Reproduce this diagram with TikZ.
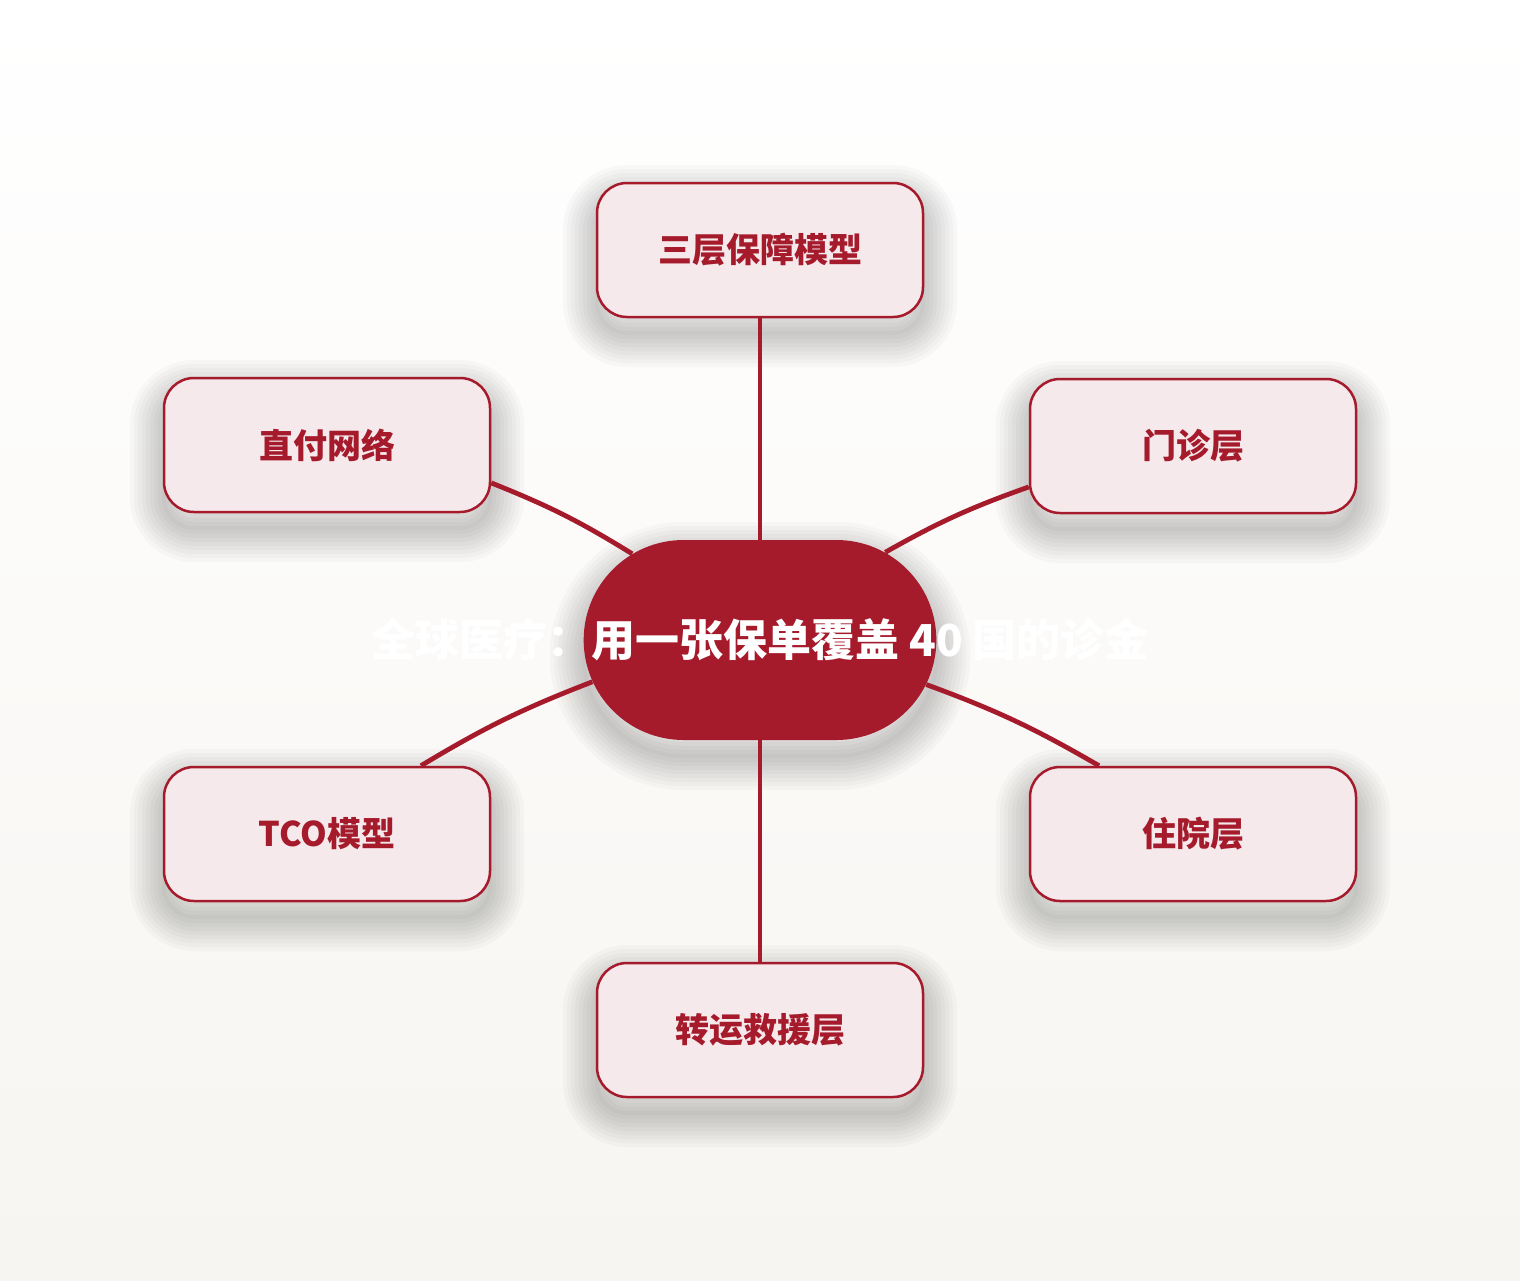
\documentclass[tikz,border=0pt]{standalone}
\usepackage{fontspec}
\setmainfont{Noto Sans CJK SC}
\usetikzlibrary{shapes.misc}

\definecolor{wine}{RGB}{165,27,44}
\definecolor{blush}{RGB}{245,233,236}
\definecolor{paper}{RGB}{247,245,241}

\tikzset{
  haze/.style={preaction={draw=black,draw opacity=0.022,line width=#1,transform canvas={yshift=-8pt}}},
  soft/.style={haze=34pt,haze=30pt,haze=26pt,haze=22pt,haze=18pt,haze=14pt,haze=10pt,haze=6pt,haze=2pt},
  leaf/.style={draw=wine,line width=1.25pt,fill=blush,rectangle,rounded corners=15pt,
    minimum width=163pt,minimum height=67pt,text=wine,font=\fontsize{17pt}{20pt}\selectfont\bfseries,soft},
  hub/.style={fill=wine,rounded rectangle,minimum width=183pt,minimum height=100pt,soft},
  link/.style={draw=wine,line width=2.4pt}
}

\begin{document}
\begin{tikzpicture}[x=0.5pt,y=-0.5pt]
\shade[top color=white,bottom color=paper] (0,0) rectangle (1520,1280);
\useasboundingbox (0,0) rectangle (1520,1280);

\draw node [hub] (hub) at (760,640) {};

\draw node [leaf] (tiers) at (760,250) {三层保障模型};
\draw node [leaf] (direct) at (327,445) {直付网络};
\draw node [leaf] (clinic) at (1193,446) {门诊层};
\draw node [leaf] (tco) at (327,834) {TCO模型};
\draw node [leaf] (ward) at (1193,834) {住院层};
\draw node [leaf] (rescue) at (760,1030) {转运救援层};

% links end on the borders
\draw[link] (hub.north) -- (tiers.south);
\draw[link] (hub.south) -- (rescue.north);
\draw[link] (hub.146) to[bend right=5] (direct.347);
\draw[link] (hub.35) to[bend left=5] (clinic.194);
\draw[link] (hub.194) to[bend right=5] (tco.36);
\draw[link] (hub.345) to[bend left=5] (ward.144);

\draw node [text=white,font=\fontsize{22pt}{26pt}\selectfont\bfseries] (title) at (hub) {全球医疗：用一张保单覆盖 40 国的诊金};

\end{tikzpicture}
\end{document}
